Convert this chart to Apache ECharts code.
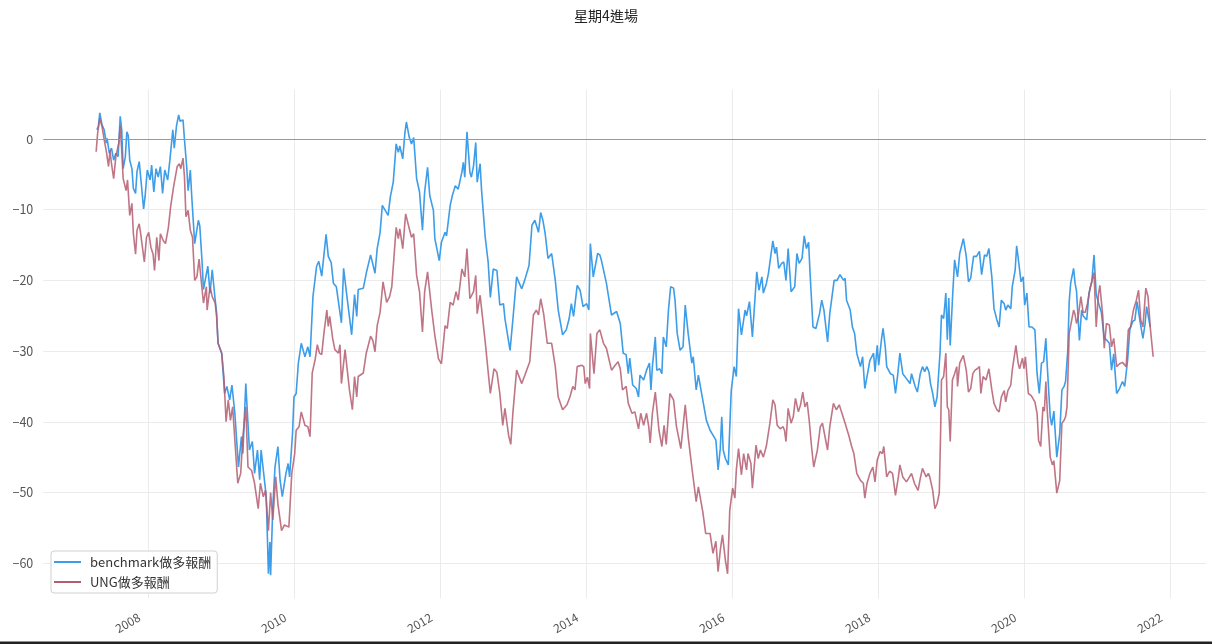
<!DOCTYPE html>
<html>
<head>
<meta charset="utf-8">
<title>星期4進場</title>
<script src="https://cdn.jsdelivr.net/npm/echarts@6/dist/echarts.min.js"></script>
<style>
	html, body { margin: 0; padding: 0; background: #fff; }
	#chart { width: 1212px; height: 644px; }
</style>
</head>
<body>
<div id="chart"></div>
<script>
'use strict';

// weekly dates as decimal years
var benchDates = [
	2007.30, 2007.32, 2007.34, 2007.37, 2007.40, 2007.43, 2007.44, 2007.47, 2007.50, 2007.53,
	2007.56, 2007.59, 2007.62, 2007.64, 2007.66, 2007.69, 2007.71, 2007.73, 2007.75, 2007.78,
	2007.80, 2007.83, 2007.85, 2007.88, 2007.90, 2007.94, 2007.96, 2007.99, 2008.03, 2008.05,
	2008.08, 2008.11, 2008.14, 2008.17, 2008.20, 2008.23, 2008.27, 2008.30, 2008.34, 2008.36,
	2008.39, 2008.42, 2008.44, 2008.48, 2008.50, 2008.53, 2008.55, 2008.58, 2008.60, 2008.64,
	2008.69, 2008.71, 2008.74, 2008.76, 2008.82, 2008.85, 2008.88, 2008.92, 2008.94, 2008.96,
	2009.01, 2009.05, 2009.08, 2009.12, 2009.15, 2009.19, 2009.24, 2009.28, 2009.30, 2009.34,
	2009.39, 2009.43, 2009.46, 2009.50, 2009.53, 2009.55, 2009.60, 2009.62, 2009.65, 2009.67,
	2009.68, 2009.71, 2009.74, 2009.78, 2009.81, 2009.84, 2009.89, 2009.92, 2009.94, 2009.98,
	2010.00, 2010.03, 2010.06, 2010.10, 2010.15, 2010.19, 2010.22, 2010.26, 2010.31, 2010.34,
	2010.38, 2010.44, 2010.47, 2010.51, 2010.54, 2010.58, 2010.65, 2010.68, 2010.72, 2010.79,
	2010.83, 2010.86, 2010.88, 2010.95, 2010.99, 2011.05, 2011.11, 2011.14, 2011.18, 2011.21,
	2011.25, 2011.29, 2011.32, 2011.36, 2011.40, 2011.43, 2011.45, 2011.49, 2011.52, 2011.54,
	2011.58, 2011.61, 2011.64, 2011.68, 2011.72, 2011.76, 2011.79, 2011.83, 2011.86, 2011.91,
	2011.93, 2011.99, 2012.02, 2012.07, 2012.09, 2012.14, 2012.17, 2012.21, 2012.25, 2012.30,
	2012.32, 2012.34, 2012.37, 2012.41, 2012.43, 2012.46, 2012.49, 2012.51, 2012.55, 2012.57,
	2012.62, 2012.66, 2012.69, 2012.73, 2012.78, 2012.82, 2012.87, 2012.89, 2012.96, 2013.00,
	2013.05, 2013.12, 2013.16, 2013.22, 2013.26, 2013.30, 2013.35, 2013.38, 2013.41, 2013.44,
	2013.48, 2013.53, 2013.58, 2013.62, 2013.68, 2013.73, 2013.77, 2013.80, 2013.83, 2013.88,
	2013.92, 2013.96, 2014.01, 2014.04, 2014.06, 2014.10, 2014.16, 2014.19, 2014.21, 2014.28,
	2014.35, 2014.42, 2014.47, 2014.51, 2014.55, 2014.58, 2014.60, 2014.64, 2014.69, 2014.72,
	2014.74, 2014.79, 2014.83, 2014.87, 2014.89, 2014.91, 2014.95, 2014.97, 2015.01, 2015.04,
	2015.06, 2015.10, 2015.13, 2015.16, 2015.20, 2015.22, 2015.25, 2015.29, 2015.33, 2015.36,
	2015.40, 2015.45, 2015.47, 2015.51, 2015.54, 2015.60, 2015.65, 2015.70, 2015.74, 2015.78,
	2015.81, 2015.84, 2015.86, 2015.88, 2015.91, 2015.95, 2015.99, 2016.03, 2016.06, 2016.09,
	2016.13, 2016.18, 2016.20, 2016.24, 2016.28, 2016.34, 2016.37, 2016.41, 2016.43, 2016.47,
	2016.50, 2016.56, 2016.59, 2016.61, 2016.64, 2016.68, 2016.71, 2016.74, 2016.77, 2016.81,
	2016.86, 2016.89, 2016.92, 2016.96, 2016.99, 2017.02, 2017.05, 2017.07, 2017.11, 2017.15,
	2017.20, 2017.23, 2017.26, 2017.31, 2017.34, 2017.40, 2017.44, 2017.48, 2017.53, 2017.55,
	2017.57, 2017.62, 2017.65, 2017.68, 2017.71, 2017.73, 2017.76, 2017.79, 2017.82, 2017.85,
	2017.89, 2017.94, 2017.96, 2017.99, 2018.01, 2018.05, 2018.07, 2018.10, 2018.12, 2018.17,
	2018.21, 2018.24, 2018.27, 2018.30, 2018.34, 2018.39, 2018.44, 2018.46, 2018.51, 2018.54,
	2018.58, 2018.61, 2018.64, 2018.67, 2018.70, 2018.72, 2018.75, 2018.78, 2018.81, 2018.85,
	2018.87, 2018.90, 2018.93, 2018.95, 2018.97, 2018.99, 2019.02, 2019.05, 2019.09, 2019.12,
	2019.17, 2019.21, 2019.24, 2019.27, 2019.31, 2019.35, 2019.39, 2019.42, 2019.46, 2019.49,
	2019.52, 2019.56, 2019.59, 2019.63, 2019.66, 2019.69, 2019.73, 2019.75, 2019.78, 2019.82,
	2019.84, 2019.88, 2019.90, 2019.93, 2019.96, 2019.99, 2020.01, 2020.04, 2020.07, 2020.11,
	2020.13, 2020.15, 2020.18, 2020.21, 2020.24, 2020.27, 2020.30, 2020.32, 2020.36, 2020.38,
	2020.41, 2020.45, 2020.49, 2020.52, 2020.55, 2020.57, 2020.60, 2020.62, 2020.64, 2020.68,
	2020.70, 2020.72, 2020.76, 2020.79, 2020.81, 2020.86, 2020.89, 2020.93, 2020.96, 2020.99,
	2021.03, 2021.06, 2021.10, 2021.13, 2021.17, 2021.20, 2021.23, 2021.27, 2021.31, 2021.35,
	2021.38, 2021.42, 2021.45, 2021.49, 2021.52, 2021.55, 2021.59, 2021.63, 2021.66, 2021.68,
	2021.73
];

var benchValues = [
	1.3, 1.8, 3.7, 2.0, 1.3, -0.6, 0.1, -2.0, -1.3, -3.0,
	-2.0, -2.5, 3.2, 1.3, -4.2, -2.5, 1.0, 0.5, -3.0, -4.2,
	-7.0, -7.7, -4.6, -3.2, -5.4, -9.9, -8.2, -4.4, -5.8, -3.7,
	-7.5, -4.2, -5.4, -3.9, -7.7, -4.4, -5.8, -3.0, 1.3, -1.3,
	1.8, 3.4, 2.5, 2.7, -0.1, -3.9, -7.3, -4.4, -8.2, -14.8,
	-11.5, -12.3, -17.2, -21.3, -18.0, -21.8, -18.5, -22.7, -24.6, -28.9,
	-30.3, -36.0, -35.0, -36.9, -34.8, -38.8, -46.4, -42.1, -44.5, -34.6,
	-44.0, -42.8, -47.3, -44.0, -48.2, -44.0, -48.7, -50.6, -61.5, -57.0,
	-61.7, -52.0, -46.4, -43.5, -48.3, -50.6, -47.3, -45.9, -47.8, -41.7,
	-36.5, -36.0, -31.7, -28.9, -30.8, -29.4, -30.8, -22.3, -18.0, -17.3,
	-19.4, -13.5, -16.6, -17.5, -20.4, -20.9, -26.0, -18.3, -21.8, -27.7,
	-22.0, -25.1, -21.3, -21.1, -19.0, -16.4, -19.0, -15.5, -13.2, -9.4,
	-10.1, -10.8, -8.2, -6.1, -0.7, -1.9, -1.0, -2.8, 0.9, 2.4,
	0.2, -0.7, 0.2, -5.6, -7.5, -12.9, -7.5, -4.0, -8.0, -10.1,
	-14.1, -17.2, -14.6, -13.2, -13.7, -9.4, -8.0, -6.6, -7.1, -4.7,
	-3.3, -5.4, 1.0, -4.7, -5.4, -3.8, -0.5, -6.1, -3.5, -7.3,
	-13.9, -17.4, -22.4, -18.4, -18.6, -23.5, -23.3, -25.4, -29.9, -25.4,
	-19.5, -21.2, -20.0, -17.9, -12.2, -11.5, -13.2, -10.4, -11.5, -13.3,
	-16.9, -16.2, -20.0, -24.2, -27.7, -27.0, -25.4, -23.3, -25.1, -20.7,
	-21.4, -23.7, -23.3, -24.2, -14.8, -19.5, -16.2, -16.4, -17.1, -20.4,
	-24.9, -24.4, -26.1, -30.3, -30.5, -33.2, -31.0, -34.8, -35.3, -36.5,
	-33.4, -34.1, -32.7, -31.7, -35.5, -32.2, -28.0, -32.7, -32.5, -33.2,
	-28.0, -29.4, -24.2, -20.9, -21.1, -22.8, -27.5, -29.9, -29.4, -23.5,
	-27.5, -31.7, -30.8, -35.5, -33.4, -36.9, -39.8, -41.2, -41.9, -42.6,
	-46.8, -43.8, -39.3, -44.0, -45.2, -46.1, -35.6, -32.2, -33.6, -24.0,
	-27.7, -24.2, -25.0, -23.0, -28.0, -18.8, -21.4, -19.5, -21.8, -20.5,
	-19.0, -14.4, -16.2, -15.3, -18.3, -17.6, -17.4, -20.0, -15.5, -21.6,
	-20.9, -16.2, -17.6, -16.9, -13.7, -15.5, -14.6, -19.0, -26.6, -26.8,
	-24.7, -22.8, -24.2, -28.7, -24.7, -20.0, -20.0, -19.2, -20.0, -19.7,
	-22.8, -24.2, -26.6, -27.5, -30.3, -30.1, -32.2, -30.8, -35.3, -33.6,
	-31.3, -30.3, -32.9, -29.2, -32.0, -28.2, -26.8, -29.4, -32.2, -33.2,
	-33.4, -36.0, -33.4, -30.3, -33.2, -33.9, -34.6, -33.2, -35.0, -35.8,
	-33.2, -32.2, -32.9, -32.2, -33.0, -34.6, -36.0, -37.9, -36.5, -30.3,
	-24.9, -25.4, -21.8, -28.4, -22.5, -29.2, -22.8, -17.1, -19.5, -16.2,
	-14.1, -16.6, -20.2, -19.7, -16.6, -16.6, -15.9, -19.2, -16.4, -16.6,
	-15.5, -19.5, -24.0, -25.6, -26.6, -22.8, -23.3, -24.2, -23.5, -24.0,
	-20.9, -18.5, -15.1, -17.6, -20.2, -19.5, -23.5, -21.8, -26.6, -26.6,
	-26.4, -27.0, -33.2, -36.0, -31.7, -31.5, -28.2, -32.2, -39.3, -40.5,
	-38.5, -45.0, -41.7, -35.5, -35.0, -34.3, -30.0, -23.0, -20.4, -18.3,
	-20.4, -21.5, -28.5, -24.2, -25.0, -25.6, -21.8, -20.2, -16.4, -22.0,
	-23.5, -24.5, -28.2, -28.4, -28.9, -32.7, -30.4, -36.0, -35.3, -34.3,
	-35.0, -31.3, -27.0, -25.8, -25.6, -23.0, -25.8, -28.2, -26.1, -23.7,
	-26.6
];

var ungDates = [
	2007.29, 2007.31, 2007.34, 2007.37, 2007.40, 2007.43, 2007.46, 2007.48, 2007.50, 2007.53,
	2007.56, 2007.60, 2007.62, 2007.64, 2007.66, 2007.70, 2007.72, 2007.75, 2007.78, 2007.80,
	2007.83, 2007.85, 2007.88, 2007.90, 2007.95, 2007.98, 2008.01, 2008.04, 2008.07, 2008.09,
	2008.12, 2008.15, 2008.17, 2008.21, 2008.24, 2008.28, 2008.31, 2008.35, 2008.37, 2008.40,
	2008.43, 2008.45, 2008.48, 2008.50, 2008.52, 2008.55, 2008.58, 2008.61, 2008.64, 2008.67,
	2008.70, 2008.76, 2008.80, 2008.81, 2008.85, 2008.88, 2008.92, 2008.94, 2008.96, 2009.01,
	2009.04, 2009.07, 2009.10, 2009.13, 2009.16, 2009.19, 2009.23, 2009.27, 2009.30, 2009.34,
	2009.37, 2009.42, 2009.46, 2009.51, 2009.54, 2009.58, 2009.61, 2009.65, 2009.68, 2009.71,
	2009.75, 2009.78, 2009.83, 2009.87, 2009.93, 2009.97, 2010.01, 2010.03, 2010.07, 2010.10,
	2010.15, 2010.19, 2010.22, 2010.25, 2010.29, 2010.32, 2010.35, 2010.38, 2010.41, 2010.45,
	2010.47, 2010.49, 2010.53, 2010.56, 2010.61, 2010.63, 2010.65, 2010.70, 2010.73, 2010.76,
	2010.80, 2010.83, 2010.86, 2010.88, 2010.95, 2010.99, 2011.05, 2011.08, 2011.11, 2011.14,
	2011.18, 2011.22, 2011.27, 2011.31, 2011.34, 2011.40, 2011.43, 2011.45, 2011.49, 2011.53,
	2011.58, 2011.61, 2011.64, 2011.68, 2011.72, 2011.76, 2011.79, 2011.83, 2011.89, 2011.93,
	2011.98, 2012.02, 2012.07, 2012.10, 2012.14, 2012.18, 2012.22, 2012.25, 2012.30, 2012.34,
	2012.37, 2012.41, 2012.46, 2012.49, 2012.51, 2012.55, 2012.57, 2012.62, 2012.66, 2012.69,
	2012.74, 2012.78, 2012.82, 2012.86, 2012.89, 2012.94, 2012.97, 2013.00, 2013.05, 2013.12,
	2013.16, 2013.23, 2013.28, 2013.32, 2013.35, 2013.38, 2013.42, 2013.47, 2013.53, 2013.58,
	2013.62, 2013.68, 2013.74, 2013.78, 2013.82, 2013.85, 2013.88, 2013.94, 2013.97, 2013.99,
	2014.02, 2014.05, 2014.06, 2014.11, 2014.15, 2014.19, 2014.24, 2014.28, 2014.35, 2014.40,
	2014.44, 2014.47, 2014.50, 2014.55, 2014.58, 2014.63, 2014.67, 2014.72, 2014.75, 2014.79,
	2014.83, 2014.86, 2014.88, 2014.91, 2014.95, 2015.00, 2015.04, 2015.07, 2015.10, 2015.15,
	2015.20, 2015.24, 2015.30, 2015.36, 2015.40, 2015.45, 2015.51, 2015.54, 2015.60, 2015.64,
	2015.70, 2015.74, 2015.78, 2015.81, 2015.84, 2015.87, 2015.91, 2015.94, 2015.97, 2016.01,
	2016.04, 2016.06, 2016.09, 2016.13, 2016.16, 2016.20, 2016.22, 2016.26, 2016.28, 2016.33,
	2016.36, 2016.39, 2016.43, 2016.47, 2016.52, 2016.56, 2016.59, 2016.62, 2016.66, 2016.70,
	2016.72, 2016.74, 2016.77, 2016.81, 2016.84, 2016.87, 2016.91, 2016.94, 2016.97, 2017.00,
	2017.03, 2017.06, 2017.09, 2017.12, 2017.17, 2017.21, 2017.24, 2017.28, 2017.31, 2017.34,
	2017.39, 2017.43, 2017.47, 2017.50, 2017.55, 2017.60, 2017.64, 2017.67, 2017.71, 2017.76,
	2017.80, 2017.82, 2017.85, 2017.89, 2017.93, 2017.96, 2017.99, 2018.03, 2018.06, 2018.08,
	2018.12, 2018.16, 2018.20, 2018.24, 2018.28, 2018.30, 2018.34, 2018.39, 2018.42, 2018.46,
	2018.50, 2018.55, 2018.58, 2018.61, 2018.63, 2018.66, 2018.69, 2018.71, 2018.75, 2018.78,
	2018.81, 2018.84, 2018.86, 2018.87, 2018.90, 2018.93, 2018.95, 2018.97, 2018.99, 2019.02,
	2019.05, 2019.08, 2019.09, 2019.12, 2019.17, 2019.21, 2019.24, 2019.27, 2019.30, 2019.33,
	2019.36, 2019.39, 2019.41, 2019.44, 2019.48, 2019.52, 2019.56, 2019.59, 2019.63, 2019.66,
	2019.69, 2019.73, 2019.75, 2019.78, 2019.82, 2019.84, 2019.89, 2019.92, 2019.94, 2019.98,
	2020.00, 2020.02, 2020.06, 2020.10, 2020.15, 2020.18, 2020.20, 2020.23, 2020.26, 2020.28,
	2020.30, 2020.32, 2020.36, 2020.39, 2020.41, 2020.45, 2020.49, 2020.52, 2020.55, 2020.57,
	2020.59, 2020.62, 2020.64, 2020.68, 2020.70, 2020.72, 2020.74, 2020.78, 2020.81, 2020.84,
	2020.87, 2020.91, 2020.96, 2020.99, 2021.02, 2021.04, 2021.08, 2021.10, 2021.13, 2021.17,
	2021.20, 2021.23, 2021.27, 2021.31, 2021.35, 2021.40, 2021.43, 2021.46, 2021.50, 2021.54,
	2021.57, 2021.60, 2021.63, 2021.67, 2021.70, 2021.73, 2021.77
];

var ungValues = [
	-1.8, 0.8, 2.9, 1.8, -0.1, -1.8, -3.9, -1.6, -3.5, -5.6,
	-2.5, -0.6, 1.8, -1.6, -5.6, -7.3, -5.8, -10.8, -9.1, -13.4,
	-16.3, -12.9, -12.0, -13.4, -17.4, -13.9, -13.2, -15.3, -16.3, -18.6,
	-13.9, -17.2, -13.4, -14.4, -14.8, -12.5, -9.6, -6.8, -6.8, -3.9,
	-3.5, -4.2, -2.7, -5.4, -11.0, -10.1, -12.9, -13.9, -20.0, -19.5,
	-17.0, -23.2, -20.9, -24.2, -20.9, -22.3, -23.2, -25.1, -28.9, -30.3,
	-33.6, -40.0, -36.9, -39.8, -37.9, -42.6, -48.7, -47.3, -42.1, -37.9,
	-46.4, -46.9, -48.7, -52.3, -48.7, -50.6, -49.7, -55.4, -50.0, -53.9,
	-47.8, -51.6, -55.4, -54.6, -54.9, -47.3, -44.5, -41.2, -40.7, -38.6,
	-40.5, -40.7, -42.1, -33.1, -31.2, -29.1, -30.3, -30.5, -27.5, -24.2,
	-26.5, -25.1, -28.2, -29.8, -30.3, -29.1, -34.6, -29.8, -32.7, -35.5,
	-38.3, -33.6, -36.5, -33.6, -33.1, -30.3, -27.9, -28.5, -30.1, -26.4,
	-24.5, -20.2, -23.1, -22.3, -20.9, -12.5, -14.1, -12.7, -15.5, -10.6,
	-12.7, -13.9, -13.4, -19.3, -21.6, -27.3, -21.6, -18.8, -24.5, -27.8,
	-31.1, -31.8, -26.4, -26.8, -23.1, -23.5, -21.6, -22.8, -18.4, -19.5,
	-15.5, -22.6, -21.6, -19.3, -24.7, -22.1, -24.0, -28.7, -32.9, -36.0,
	-32.5, -33.0, -36.0, -40.5, -38.1, -41.9, -43.2, -38.6, -32.7, -34.6,
	-33.5, -31.5, -24.9, -24.2, -24.9, -22.6, -24.7, -28.9, -28.9, -32.2,
	-36.5, -38.3, -37.6, -36.5, -35.0, -35.5, -32.2, -32.0, -32.2, -34.6,
	-33.7, -35.3, -27.5, -33.2, -27.5, -27.0, -28.9, -29.6, -32.7, -32.0,
	-31.5, -32.5, -35.5, -35.0, -37.4, -38.8, -38.6, -41.0, -38.8, -40.5,
	-38.8, -40.7, -43.0, -38.8, -35.8, -41.2, -43.5, -40.5, -43.2, -36.0,
	-36.9, -40.7, -43.8, -37.6, -42.1, -46.4, -51.3, -49.2, -52.7, -55.8,
	-55.8, -58.6, -56.9, -61.2, -58.2, -56.0, -59.6, -61.5, -52.5, -49.4,
	-50.8, -46.8, -43.8, -47.5, -44.5, -46.8, -44.5, -45.9, -49.4, -43.3,
	-45.2, -44.0, -45.0, -43.5, -40.2, -36.9, -37.6, -40.5, -41.0, -40.7,
	-41.2, -42.8, -38.1, -40.2, -39.3, -36.7, -38.6, -37.6, -35.8, -37.9,
	-37.2, -40.0, -43.5, -46.4, -44.0, -40.7, -40.2, -42.4, -44.0, -40.7,
	-37.4, -38.3, -37.6, -38.6, -40.2, -41.9, -43.5, -44.5, -47.3, -48.3,
	-48.7, -50.8, -48.7, -47.3, -46.4, -48.5, -45.4, -44.2, -44.5, -43.5,
	-47.8, -47.0, -47.3, -50.4, -47.8, -46.1, -47.8, -48.5, -48.0, -47.3,
	-48.7, -49.7, -48.0, -46.6, -46.8, -47.8, -47.3, -47.8, -49.7, -52.3,
	-51.6, -50.1, -40.7, -34.1, -33.6, -30.3, -37.9, -38.3, -42.8, -34.1,
	-33.2, -32.2, -35.0, -31.7, -30.6, -32.7, -35.8, -35.3, -33.2, -32.7,
	-32.5, -32.2, -36.0, -33.6, -34.1, -32.5, -35.5, -37.4, -38.3, -38.6,
	-36.5, -35.6, -37.2, -35.6, -34.8, -32.7, -29.2, -31.7, -32.5, -31.0,
	-32.5, -30.8, -36.0, -36.3, -37.2, -38.8, -42.6, -43.5, -37.9, -38.5,
	-34.3, -38.5, -45.0, -46.1, -45.5, -50.1, -48.3, -40.2, -39.8, -39.3,
	-37.9, -27.5, -27.3, -24.2, -24.8, -26.1, -25.4, -22.3, -24.5, -24.5,
	-23.3, -20.9, -18.9, -26.6, -22.0, -20.7, -25.1, -29.6, -26.1, -26.3,
	-29.4, -28.2, -32.2, -31.8, -31.6, -32.2, -27.0, -26.6, -24.2, -22.8,
	-21.4, -25.6, -26.6, -21.1, -22.3, -26.6, -30.8
];

var yearTicks = [2008, 2010, 2012, 2014, 2016, 2018, 2020, 2022];
var valueTicks = [-60, -50, -40, -30, -20, -10, 0];

var seriesNames = ['benchmark做多報酬', 'UNG做多報酬'];
var seriesColors = ['#3d9de8', '#b45d70'];

var fontFamily = '"Noto Sans CJK TC", "Noto Sans", sans-serif';

function zip(xs, ys) {
	var out = [];
	for (var i = 0; i < xs.length; i++) {
		out.push([xs[i], ys[i]]);
	}
	return out;
}

var chart = echarts.init(document.getElementById('chart'));

var option = {
	backgroundColor: '#fff',
	animation: false,
	textStyle: { fontFamily: fontFamily },
	title: {
		text: '星期4進場',
		left: 'center',
		top: 4,
		textStyle: { fontSize: 14, fontWeight: 'normal', color: '#222', fontFamily: fontFamily }
	},
	grid: { left: 43.3, right: 6, top: 89.7, bottom: 45.7, containLabel: false },
	legend: {
		orient: 'vertical',
		left: 51,
		top: 551,
		padding: [4, 6, 4, 3],
		itemGap: 6,
		itemWidth: 27,
		itemHeight: 2,
		icon: 'rect',
		backgroundColor: 'rgba(255,255,255,0.85)',
		borderColor: '#d0d0d0',
		borderWidth: 1,
		borderRadius: 3,
		textStyle: { fontSize: 13, color: '#333', lineHeight: 14, padding: [0, 0, 0, 4], fontFamily: fontFamily },
		data: seriesNames
	},
	xAxis: {
		type: 'value',
		min: 2006.566,
		max: 2022.494,
		axisLine: { show: false },
		axisTick: { show: false, customValues: yearTicks },
		splitLine: { show: true, lineStyle: { color: '#ebebeb', width: 1 } },
		axisLabel: {
			customValues: yearTicks,
			rotate: 30,
			margin: 13,
			padding: [0, 10, 0, 0],
			color: '#555',
			fontSize: 12,
			fontFamily: fontFamily,
			formatter: function (v) { return String(Math.round(v)); }
		}
	},
	yAxis: {
		type: 'value',
		min: -64.97,
		max: 6.97,
		axisLine: { show: false },
		axisTick: { show: false, customValues: valueTicks },
		splitLine: { show: true, lineStyle: { color: '#ebebeb', width: 1 } },
		axisLabel: {
			customValues: valueTicks,
			margin: 10,
			color: '#555',
			fontSize: 12.5,
			fontFamily: fontFamily,
			formatter: function (v) { return String(v).replace('-', '\u2212'); }
		}
	},
	series: [
		{
			name: seriesNames[0],
			type: 'line',
			data: zip(benchDates, benchValues),
			showSymbol: false,
			color: seriesColors[0],
			lineStyle: { width: 1.6, color: seriesColors[0] },
			z: 2,
			markLine: {
				silent: true,
				symbol: 'none',
				label: { show: false },
				lineStyle: { color: '#999', width: 1.2, type: 'solid' },
				data: [{ yAxis: 0 }]
			}
		},
		{
			name: seriesNames[1],
			type: 'line',
			data: zip(ungDates, ungValues),
			showSymbol: false,
			color: seriesColors[1],
			lineStyle: { width: 1.6, color: seriesColors[1], opacity: 0.85 },
			z: 3
		}
	],
	graphic: [
		{
			type: 'rect',
			left: 0,
			top: 641.5,
			shape: { width: 1212, height: 2.5 },
			style: { fill: '#222' },
			silent: true
		}
	]
};

chart.setOption(option);
</script>
</body>
</html>
